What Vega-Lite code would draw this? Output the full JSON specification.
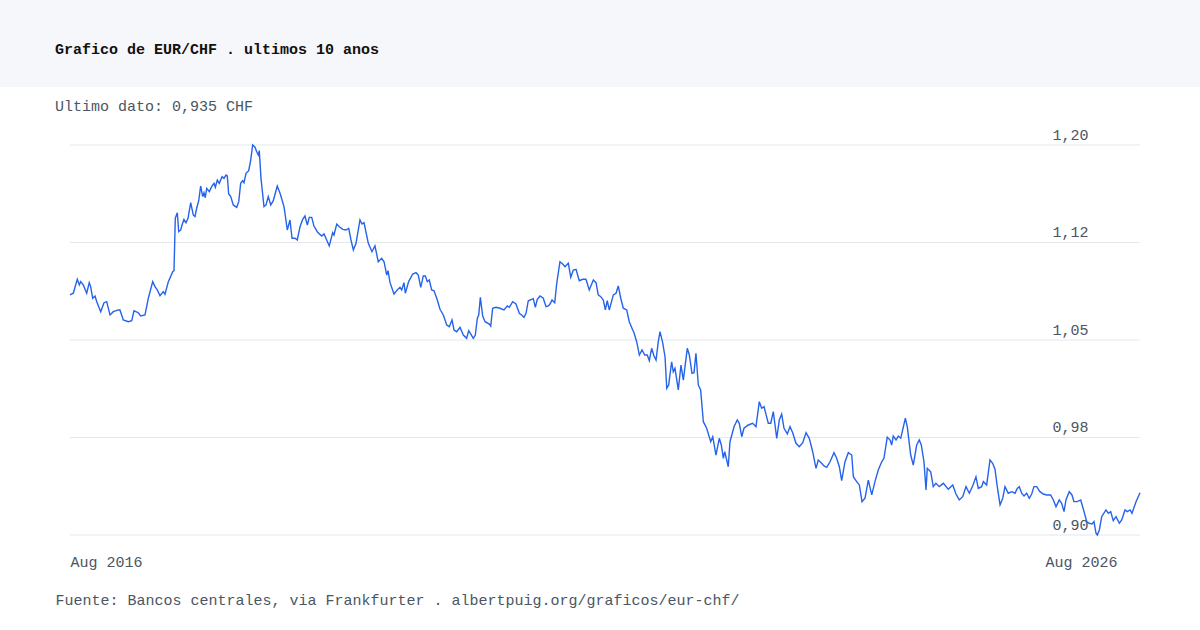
{
  "$schema": "https://vega.github.io/schema/vega-lite/v6.json",
  "description": "EUR/CHF over the last 10 years, weekly-ish readings.",
  "background": "white",
  "padding": {"left": 0, "top": 0, "right": 0, "bottom": 16},
  "spacing": 12,
  "config": {"view": {"stroke": null}, "font": "Liberation Mono"},
  "datasets": {
    "grid": [{"rate": 0.902}, {"rate": 0.976}, {"rate": 1.05}, {"rate": 1.124}, {"rate": 1.198}],
    "eurchf": [
      {"year":2016.583,"rate":1.0842},{"year":2016.614,"rate":1.0855},{"year":2016.651,"rate":1.0961},{"year":2016.670,"rate":1.0918},
      {"year":2016.683,"rate":1.0943},{"year":2016.707,"rate":1.0918},{"year":2016.739,"rate":1.0855},{"year":2016.763,"rate":1.0935},
      {"year":2016.776,"rate":1.0905},{"year":2016.795,"rate":1.0817},{"year":2016.817,"rate":1.0834},{"year":2016.833,"rate":1.0791},
      {"year":2016.870,"rate":1.0715},{"year":2016.901,"rate":1.0783},{"year":2016.926,"rate":1.0791},{"year":2016.957,"rate":1.0690},
      {"year":2016.988,"rate":1.0715},{"year":2017.034,"rate":1.0728},{"year":2017.050,"rate":1.0728},{"year":2017.081,"rate":1.0652},
      {"year":2017.128,"rate":1.0639},{"year":2017.160,"rate":1.0647},{"year":2017.181,"rate":1.0722},{"year":2017.221,"rate":1.0707},
      {"year":2017.244,"rate":1.0682},{"year":2017.284,"rate":1.0690},{"year":2017.315,"rate":1.0817},{"year":2017.356,"rate":1.0943},
      {"year":2017.377,"rate":1.0905},{"year":2017.399,"rate":1.0880},{"year":2017.424,"rate":1.0836},{"year":2017.455,"rate":1.0867},
      {"year":2017.471,"rate":1.0847},{"year":2017.502,"rate":1.0943},{"year":2017.543,"rate":1.1018},{"year":2017.555,"rate":1.1026},
      {"year":2017.567,"rate":1.1424},{"year":2017.586,"rate":1.1466},{"year":2017.599,"rate":1.1322},{"year":2017.618,"rate":1.1335},
      {"year":2017.630,"rate":1.1373},{"year":2017.648,"rate":1.1416},{"year":2017.667,"rate":1.1390},{"year":2017.686,"rate":1.1424},
      {"year":2017.711,"rate":1.1542},{"year":2017.735,"rate":1.1449},{"year":2017.751,"rate":1.1436},{"year":2017.767,"rate":1.1500},
      {"year":2017.786,"rate":1.1557},{"year":2017.804,"rate":1.1669},{"year":2017.823,"rate":1.1588},{"year":2017.835,"rate":1.1618},
      {"year":2017.847,"rate":1.1580},{"year":2017.861,"rate":1.1651},{"year":2017.885,"rate":1.1626},{"year":2017.907,"rate":1.1664},
      {"year":2017.929,"rate":1.1689},{"year":2017.941,"rate":1.1659},{"year":2017.960,"rate":1.1714},{"year":2017.978,"rate":1.1689},
      {"year":2018.004,"rate":1.1740},{"year":2018.022,"rate":1.1727},{"year":2018.041,"rate":1.1752},{"year":2018.053,"rate":1.1745},
      {"year":2018.066,"rate":1.1608},{"year":2018.085,"rate":1.1588},{"year":2018.109,"rate":1.1525},{"year":2018.141,"rate":1.1507},
      {"year":2018.160,"rate":1.1550},{"year":2018.178,"rate":1.1689},{"year":2018.197,"rate":1.1709},{"year":2018.209,"rate":1.1694},
      {"year":2018.228,"rate":1.1765},{"year":2018.253,"rate":1.1785},{"year":2018.272,"rate":1.1866},{"year":2018.290,"rate":1.1980},
      {"year":2018.312,"rate":1.1963},{"year":2018.328,"rate":1.1929},{"year":2018.343,"rate":1.1904},{"year":2018.352,"rate":1.1937},
      {"year":2018.368,"rate":1.1727},{"year":2018.396,"rate":1.1512},{"year":2018.415,"rate":1.1525},{"year":2018.436,"rate":1.1588},
      {"year":2018.459,"rate":1.1525},{"year":2018.483,"rate":1.1557},{"year":2018.520,"rate":1.1669},{"year":2018.546,"rate":1.1614},
      {"year":2018.583,"rate":1.1512},{"year":2018.614,"rate":1.1335},{"year":2018.639,"rate":1.1411},{"year":2018.658,"rate":1.1272},
      {"year":2018.686,"rate":1.1272},{"year":2018.707,"rate":1.1259},{"year":2018.733,"rate":1.1360},{"year":2018.758,"rate":1.1416},
      {"year":2018.779,"rate":1.1441},{"year":2018.801,"rate":1.1373},{"year":2018.819,"rate":1.1431},{"year":2018.842,"rate":1.1431},
      {"year":2018.863,"rate":1.1365},{"year":2018.894,"rate":1.1322},{"year":2018.935,"rate":1.1289},{"year":2018.957,"rate":1.1305},
      {"year":2019.006,"rate":1.1214},{"year":2019.038,"rate":1.1315},{"year":2019.050,"rate":1.1297},{"year":2019.076,"rate":1.1380},
      {"year":2019.100,"rate":1.1360},{"year":2019.132,"rate":1.1340},{"year":2019.162,"rate":1.1335},{"year":2019.188,"rate":1.1348},
      {"year":2019.209,"rate":1.1259},{"year":2019.231,"rate":1.1183},{"year":2019.256,"rate":1.1234},{"year":2019.293,"rate":1.1411},
      {"year":2019.312,"rate":1.1380},{"year":2019.331,"rate":1.1390},{"year":2019.371,"rate":1.1234},{"year":2019.405,"rate":1.1170},
      {"year":2019.433,"rate":1.1214},{"year":2019.464,"rate":1.1094},{"year":2019.496,"rate":1.1120},{"year":2019.518,"rate":1.1094},
      {"year":2019.543,"rate":1.0993},{"year":2019.555,"rate":1.1026},{"year":2019.574,"rate":1.0935},{"year":2019.611,"rate":1.0849},
      {"year":2019.642,"rate":1.0880},{"year":2019.667,"rate":1.0900},{"year":2019.683,"rate":1.0880},{"year":2019.704,"rate":1.0935},
      {"year":2019.717,"rate":1.0855},{"year":2019.748,"rate":1.0943},{"year":2019.786,"rate":1.1001},{"year":2019.817,"rate":1.1011},
      {"year":2019.838,"rate":1.0993},{"year":2019.861,"rate":1.0900},{"year":2019.885,"rate":1.0986},{"year":2019.904,"rate":1.0986},
      {"year":2019.922,"rate":1.0943},{"year":2019.941,"rate":1.0955},{"year":2019.963,"rate":1.0880},{"year":2019.985,"rate":1.0874},
      {"year":2020.016,"rate":1.0804},{"year":2020.041,"rate":1.0733},{"year":2020.072,"rate":1.0690},{"year":2020.104,"rate":1.0614},
      {"year":2020.128,"rate":1.0601},{"year":2020.153,"rate":1.0652},{"year":2020.172,"rate":1.0576},{"year":2020.197,"rate":1.0563},
      {"year":2020.228,"rate":1.0596},{"year":2020.259,"rate":1.0538},{"year":2020.290,"rate":1.0513},{"year":2020.309,"rate":1.0571},
      {"year":2020.328,"rate":1.0546},{"year":2020.352,"rate":1.0513},{"year":2020.371,"rate":1.0538},{"year":2020.390,"rate":1.0665},
      {"year":2020.403,"rate":1.0690},{"year":2020.418,"rate":1.0824},{"year":2020.440,"rate":1.0682},{"year":2020.462,"rate":1.0639},
      {"year":2020.502,"rate":1.0621},{"year":2020.515,"rate":1.0606},{"year":2020.533,"rate":1.0741},{"year":2020.564,"rate":1.0748},
      {"year":2020.602,"rate":1.0741},{"year":2020.639,"rate":1.0728},{"year":2020.670,"rate":1.0758},{"year":2020.689,"rate":1.0748},
      {"year":2020.720,"rate":1.0791},{"year":2020.751,"rate":1.0773},{"year":2020.782,"rate":1.0703},{"year":2020.804,"rate":1.0690},
      {"year":2020.826,"rate":1.0672},{"year":2020.845,"rate":1.0703},{"year":2020.866,"rate":1.0798},{"year":2020.898,"rate":1.0809},
      {"year":2020.913,"rate":1.0814},{"year":2020.932,"rate":1.0748},{"year":2020.950,"rate":1.0809},{"year":2020.976,"rate":1.0834},
      {"year":2021.006,"rate":1.0817},{"year":2021.032,"rate":1.0753},{"year":2021.053,"rate":1.0758},{"year":2021.069,"rate":1.0773},
      {"year":2021.088,"rate":1.0804},{"year":2021.113,"rate":1.0783},{"year":2021.132,"rate":1.0930},{"year":2021.162,"rate":1.1094},
      {"year":2021.188,"rate":1.1077},{"year":2021.209,"rate":1.1056},{"year":2021.240,"rate":1.1082},{"year":2021.263,"rate":1.0976},
      {"year":2021.287,"rate":1.1031},{"year":2021.312,"rate":1.1037},{"year":2021.343,"rate":1.0950},{"year":2021.375,"rate":1.0961},
      {"year":2021.405,"rate":1.0961},{"year":2021.436,"rate":1.0880},{"year":2021.474,"rate":1.0955},{"year":2021.499,"rate":1.0935},
      {"year":2021.520,"rate":1.0842},{"year":2021.543,"rate":1.0829},{"year":2021.567,"rate":1.0804},{"year":2021.586,"rate":1.0728},
      {"year":2021.604,"rate":1.0798},{"year":2021.623,"rate":1.0728},{"year":2021.661,"rate":1.0842},{"year":2021.686,"rate":1.0855},
      {"year":2021.707,"rate":1.0910},{"year":2021.730,"rate":1.0817},{"year":2021.754,"rate":1.0741},{"year":2021.786,"rate":1.0728},
      {"year":2021.810,"rate":1.0639},{"year":2021.842,"rate":1.0576},{"year":2021.854,"rate":1.0555},{"year":2021.879,"rate":1.0487},
      {"year":2021.904,"rate":1.0386},{"year":2021.929,"rate":1.0424},{"year":2021.954,"rate":1.0386},{"year":2021.978,"rate":1.0386},
      {"year":2021.997,"rate":1.0343},{"year":2022.019,"rate":1.0437},{"year":2022.041,"rate":1.0379},{"year":2022.060,"rate":1.0348},
      {"year":2022.081,"rate":1.0487},{"year":2022.097,"rate":1.0563},{"year":2022.122,"rate":1.0480},{"year":2022.144,"rate":1.0373},
      {"year":2022.160,"rate":1.0133},{"year":2022.178,"rate":1.0159},{"year":2022.206,"rate":1.0335},{"year":2022.221,"rate":1.0259},
      {"year":2022.237,"rate":1.0285},{"year":2022.268,"rate":1.0121},{"year":2022.293,"rate":1.0310},{"year":2022.315,"rate":1.0196},
      {"year":2022.352,"rate":1.0437},{"year":2022.371,"rate":1.0386},{"year":2022.396,"rate":1.0247},{"year":2022.415,"rate":1.0252},
      {"year":2022.433,"rate":1.0399},{"year":2022.455,"rate":1.0159},{"year":2022.477,"rate":1.0121},{"year":2022.502,"rate":0.9880},
      {"year":2022.533,"rate":0.9830},{"year":2022.571,"rate":0.9728},{"year":2022.590,"rate":0.9766},{"year":2022.620,"rate":0.9627},
      {"year":2022.651,"rate":0.9754},{"year":2022.670,"rate":0.9703},{"year":2022.689,"rate":0.9602},{"year":2022.702,"rate":0.9652},
      {"year":2022.735,"rate":0.9538},{"year":2022.751,"rate":0.9728},{"year":2022.789,"rate":0.9842},{"year":2022.819,"rate":0.9893},
      {"year":2022.838,"rate":0.9868},{"year":2022.861,"rate":0.9766},{"year":2022.882,"rate":0.9830},{"year":2022.922,"rate":0.9855},
      {"year":2022.963,"rate":0.9868},{"year":2022.994,"rate":0.9842},{"year":2023.025,"rate":1.0032},{"year":2023.047,"rate":0.9982},
      {"year":2023.069,"rate":0.9994},{"year":2023.109,"rate":0.9868},{"year":2023.132,"rate":0.9868},{"year":2023.156,"rate":0.9956},
      {"year":2023.188,"rate":0.9754},{"year":2023.212,"rate":0.9893},{"year":2023.234,"rate":0.9938},{"year":2023.256,"rate":0.9830},
      {"year":2023.287,"rate":0.9787},{"year":2023.312,"rate":0.9842},{"year":2023.337,"rate":0.9796},{"year":2023.368,"rate":0.9716},
      {"year":2023.399,"rate":0.9690},{"year":2023.431,"rate":0.9721},{"year":2023.462,"rate":0.9796},{"year":2023.492,"rate":0.9754},
      {"year":2023.524,"rate":0.9652},{"year":2023.555,"rate":0.9526},{"year":2023.576,"rate":0.9589},{"year":2023.608,"rate":0.9564},
      {"year":2023.630,"rate":0.9544},{"year":2023.655,"rate":0.9534},{"year":2023.686,"rate":0.9576},{"year":2023.723,"rate":0.9645},
      {"year":2023.748,"rate":0.9602},{"year":2023.773,"rate":0.9538},{"year":2023.795,"rate":0.9432},{"year":2023.826,"rate":0.9576},
      {"year":2023.857,"rate":0.9645},{"year":2023.889,"rate":0.9627},{"year":2023.904,"rate":0.9462},{"year":2023.935,"rate":0.9425},
      {"year":2023.960,"rate":0.9400},{"year":2023.985,"rate":0.9273},{"year":2024.013,"rate":0.9299},{"year":2024.044,"rate":0.9437},
      {"year":2024.076,"rate":0.9324},{"year":2024.106,"rate":0.9425},{"year":2024.137,"rate":0.9513},{"year":2024.169,"rate":0.9576},
      {"year":2024.190,"rate":0.9602},{"year":2024.221,"rate":0.9762},{"year":2024.247,"rate":0.9741},{"year":2024.262,"rate":0.9703},
      {"year":2024.277,"rate":0.9771},{"year":2024.303,"rate":0.9741},{"year":2024.324,"rate":0.9771},{"year":2024.347,"rate":0.9754},
      {"year":2024.390,"rate":0.9906},{"year":2024.408,"rate":0.9842},{"year":2024.440,"rate":0.9627},{"year":2024.464,"rate":0.9551},
      {"year":2024.496,"rate":0.9703},{"year":2024.520,"rate":0.9741},{"year":2024.539,"rate":0.9703},{"year":2024.564,"rate":0.9576},
      {"year":2024.583,"rate":0.9362},{"year":2024.595,"rate":0.9526},{"year":2024.627,"rate":0.9500},{"year":2024.651,"rate":0.9387},
      {"year":2024.676,"rate":0.9412},{"year":2024.707,"rate":0.9387},{"year":2024.745,"rate":0.9412},{"year":2024.791,"rate":0.9367},
      {"year":2024.833,"rate":0.9400},{"year":2024.863,"rate":0.9331},{"year":2024.894,"rate":0.9286},{"year":2024.926,"rate":0.9311},
      {"year":2024.957,"rate":0.9387},{"year":2024.988,"rate":0.9337},{"year":2025.019,"rate":0.9392},{"year":2025.050,"rate":0.9462},
      {"year":2025.072,"rate":0.9374},{"year":2025.103,"rate":0.9387},{"year":2025.119,"rate":0.9425},{"year":2025.150,"rate":0.9400},
      {"year":2025.181,"rate":0.9589},{"year":2025.206,"rate":0.9564},{"year":2025.228,"rate":0.9519},{"year":2025.249,"rate":0.9387},
      {"year":2025.275,"rate":0.9248},{"year":2025.300,"rate":0.9299},{"year":2025.321,"rate":0.9387},{"year":2025.352,"rate":0.9337},
      {"year":2025.384,"rate":0.9349},{"year":2025.415,"rate":0.9337},{"year":2025.436,"rate":0.9374},{"year":2025.455,"rate":0.9387},
      {"year":2025.477,"rate":0.9337},{"year":2025.499,"rate":0.9316},{"year":2025.524,"rate":0.9337},{"year":2025.548,"rate":0.9299},
      {"year":2025.571,"rate":0.9331},{"year":2025.592,"rate":0.9387},{"year":2025.617,"rate":0.9387},{"year":2025.648,"rate":0.9349},
      {"year":2025.679,"rate":0.9331},{"year":2025.711,"rate":0.9324},{"year":2025.748,"rate":0.9324},{"year":2025.773,"rate":0.9286},
      {"year":2025.798,"rate":0.9235},{"year":2025.829,"rate":0.9286},{"year":2025.851,"rate":0.9261},{"year":2025.873,"rate":0.9197},
      {"year":2025.891,"rate":0.9286},{"year":2025.922,"rate":0.9349},{"year":2025.947,"rate":0.9324},{"year":2025.966,"rate":0.9273},
      {"year":2025.997,"rate":0.9273},{"year":2026.029,"rate":0.9286},{"year":2026.060,"rate":0.9197},{"year":2026.085,"rate":0.9121},
      {"year":2026.109,"rate":0.9109},{"year":2026.134,"rate":0.9103},{"year":2026.153,"rate":0.9121},{"year":2026.172,"rate":0.9033},
      {"year":2026.184,"rate":0.9020},{"year":2026.203,"rate":0.9058},{"year":2026.225,"rate":0.9159},{"year":2026.265,"rate":0.9210},
      {"year":2026.287,"rate":0.9185},{"year":2026.309,"rate":0.9197},{"year":2026.333,"rate":0.9129},{"year":2026.359,"rate":0.9159},
      {"year":2026.390,"rate":0.9109},{"year":2026.412,"rate":0.9134},{"year":2026.443,"rate":0.9210},{"year":2026.464,"rate":0.9197},
      {"year":2026.490,"rate":0.9210},{"year":2026.508,"rate":0.9185},{"year":2026.546,"rate":0.9273},{"year":2026.583,"rate":0.9340}
    ]
  },
  "vconcat": [
    {
      "width": 1200,
      "height": 87,
      "view": {"fill": "#f6f7fa", "stroke": null},
      "title": {
        "text": "Grafico de EUR/CHF . ultimos 10 anos",
        "anchor": "start",
        "frame": "group",
        "dx": 55,
        "offset": -69,
        "baseline": "alphabetic",
        "font": "Liberation Mono",
        "fontSize": 15,
        "fontWeight": "bold",
        "color": "#111111"
      },
      "data": {"values": []},
      "mark": "text",
      "encoding": {}
    },
    {
      "width": 1200,
      "height": 390,
      "title": {
        "text": "Ultimo dato: 0,935 CHF",
        "anchor": "start",
        "frame": "group",
        "dx": 55,
        "offset": 1,
        "baseline": "alphabetic",
        "font": "Liberation Mono",
        "fontSize": 15,
        "fontWeight": "normal",
        "color": "#4b5563"
      },
      "encoding": {
        "y": {
          "field": "rate",
          "type": "quantitative",
          "scale": {"domain": [0.902, 1.198], "nice": false, "zero": false},
          "axis": {
            "orient": "right",
            "title": null,
            "values": [0.902, 0.976, 1.05, 1.124, 1.198],
            "labelExpr": "replace(format(datum.value, '.2f'), '.', ',')",
            "grid": false,
            "domain": false,
            "ticks": false,
            "labelFlush": false,
            "labelAlign": "right",
            "labelBaseline": "alphabetic",
            "labelOffset": -6,
            "labelPadding": -112,
            "labelFont": "Liberation Mono",
            "labelFontSize": 15,
            "labelColor": "#4b5563"
          }
        }
      },
      "layer": [
        {
          "data": {"name": "grid"},
          "mark": {"type": "rule", "color": "#e5e7eb", "strokeWidth": 1},
          "encoding": {
            "x": {"datum": 2016.583, "type": "quantitative"},
            "x2": {"datum": 2026.583}
          }
        },
        {
          "data": {"name": "eurchf"},
          "mark": {"type": "line", "color": "#2563eb", "strokeWidth": 1.4},
          "encoding": {
            "x": {
              "field": "year",
              "type": "quantitative",
              "title": "Fuente: Bancos centrales, via Frankfurter . albertpuig.org/graficos/eur-chf/",
              "scale": {"domain": [2016.583, 2026.583], "range": [70, 1140], "nice": false, "zero": false},
              "axis": {
                "orient": "bottom",
                "values": [2016.583, 2026.583],
                "labelExpr": "timeFormat(datetime(floor(datum.value), round((datum.value - floor(datum.value)) * 12), 1), '%b %Y')",
                "grid": false,
                "domain": false,
                "ticks": false,
                "labelFlush": false,
                "labelAlign": {"condition": {"test": "datum.value > 2020", "value": "right"}, "value": "left"},
                "labelOffset": {"condition": {"test": "datum.value > 2020", "value": -23}, "value": 0},
                "labelBaseline": "alphabetic",
                "labelPadding": 31,
                "labelFont": "Liberation Mono",
                "labelFontSize": 15,
                "labelColor": "#4b5563",
                "titleX": 55,
                "titleY": 69,
                "titleAlign": "left",
                "titleBaseline": "alphabetic",
                "titleFont": "Liberation Mono",
                "titleFontSize": 15,
                "titleFontWeight": "normal",
                "titleColor": "#4b5563"
              }
            }
          }
        }
      ]
    }
  ]
}
